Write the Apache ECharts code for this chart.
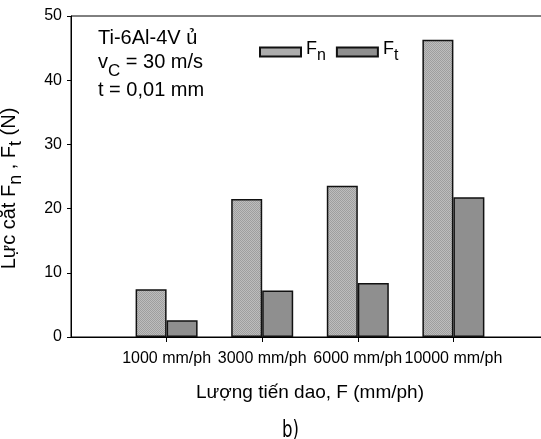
<!DOCTYPE html>
<html>
<head>
<meta charset="utf-8">
<script src="https://cdn.jsdelivr.net/npm/echarts@6/dist/echarts.min.js"></script>
<style>
    html, body {margin: 0; padding: 0; background: #fff;}
    #chart {width: 541px; height: 439px;}
</style>
</head>
<body>
<div id="chart"></div>
<script>
// luong tien dao (mm/ph), empty slots pad the axis on both sides
var feedRates = ['', '1000 mm/ph', '3000 mm/ph', '6000 mm/ph', '10000 mm/ph', ''];
var forceFn = [null, 7.45, 21.5, 23.55, 46.3, null];
var forceFt = [null, 2.6, 7.25, 8.4, 21.75, null];
var yMin = 0, yMax = 50, yStep = 10;

var FONT = 'Liberation Sans';

// dotted fill for Fn bars
function dotPattern() {
    var c = document.createElement('canvas');
    c.width = 2;
    c.height = 2;
    var ctx = c.getContext('2d');
    ctx.fillStyle = '#bdbdbd';
    ctx.fillRect(0, 0, 2, 2);
    ctx.fillStyle = '#9e9e9e';
    ctx.fillRect(0, 0, 1, 1);
    ctx.fillRect(1, 1, 1, 1);
    return c;
}

// rich styles for "F" + subscript
function subRich(size, drop) {
    return {
        n: {fontFamily: FONT, fontSize: size, fontWeight: 'normal', color: '#000', lineHeight: size + 1, verticalAlign: 'top'},
        s: {fontFamily: FONT, fontSize: size - 2, fontWeight: 'normal', color: '#000', lineHeight: size + 1 + drop, verticalAlign: 'bottom'}
    };
}

var chart = echarts.init(document.getElementById('chart'));

var option = {
    animation: false,
    textStyle: {fontFamily: FONT},
    title: {
        left: 98,
        top: 28,
        padding: 0,
        text: '{a|Ti-6Al-4V ủ}\n{a|v}{c|C}{a| = 30 m/s}\n{a|t = 0,01 mm}',
        textStyle: {
            fontWeight: 'normal',
            rich: {
                a: {fontFamily: FONT, fontSize: 20, fontWeight: 'normal', color: '#000', lineHeight: 24, verticalAlign: 'top'},
                c: {fontFamily: FONT, fontSize: 17, fontWeight: 'normal', color: '#000', lineHeight: 28, verticalAlign: 'bottom'}
            }
        }
    },
    legend: {
        left: 254,
        top: 35,
        itemWidth: 41,
        itemHeight: 9,
        itemGap: 10,
        icon: 'rect',
        data: ['Fn', 'Ft'],
        formatter: function (name) {
            return '{n|F}{s|' + name.slice(1) + '}';
        },
        textStyle: {rich: subRich(18, 5)}
    },
    grid: {
        left: 71,
        top: 16,
        right: -8,
        bottom: 102,
        containLabel: false,
        outerBoundsMode: 'none',
        show: true,
        borderColor: '#000',
        borderWidth: 1
    },
    xAxis: {
        type: 'category',
        data: feedRates,
        boundaryGap: false,
        name: 'Lượng tiến dao, F (mm/ph)',
        nameLocation: 'middle',
        nameGap: 46,
        nameTextStyle: {fontFamily: FONT, fontSize: 19, color: '#000'},
        axisLine: {lineStyle: {color: '#000', width: 1}},
        axisTick: {
            length: 5,
            lineStyle: {color: '#000'},
            interval: function (i) { return i > 0 && i < feedRates.length - 1; }
        },
        axisLabel: {fontFamily: FONT, fontSize: 16, color: '#000', margin: 14, interval: 0},
        splitLine: {show: false}
    },
    yAxis: {
        type: 'value',
        min: yMin,
        max: yMax,
        interval: yStep,
        name: '{n|Lực cắt F}{s|n}{n| , F}{s|t}{n| (N)}',
        nameLocation: 'middle',
        nameGap: 46,
        nameTextStyle: {rich: subRich(20, 5), padding: [0, 24, 0, 0]},
        axisLine: {show: true, lineStyle: {color: '#000', width: 1}},
        axisTick: {show: true, length: 4, lineStyle: {color: '#000'}},
        axisLabel: {fontFamily: FONT, fontSize: 16, color: '#000', margin: 9},
        splitLine: {show: false}
    },
    series: [
        {
            name: 'Fn',
            type: 'bar',
            data: forceFn,
            barWidth: 31,
            barGap: '0%',
            itemStyle: {
                color: {image: dotPattern(), repeat: 'repeat'},
                borderColor: '#111',
                borderWidth: 1.5
            }
        },
        {
            name: 'Ft',
            type: 'bar',
            data: forceFt,
            barWidth: 31,
            barGap: '0%',
            itemStyle: {color: '#8f8f8f', borderColor: '#111', borderWidth: 1.5}
        }
    ],
    graphic: [{
        type: 'text',
        left: 282,
        top: 420,
        scaleX: 0.72,
        style: {text: 'b)', font: '23px "DejaVu Sans"', fill: '#000'}
    }]
};

chart.setOption(option);
</script>
</body>
</html>
